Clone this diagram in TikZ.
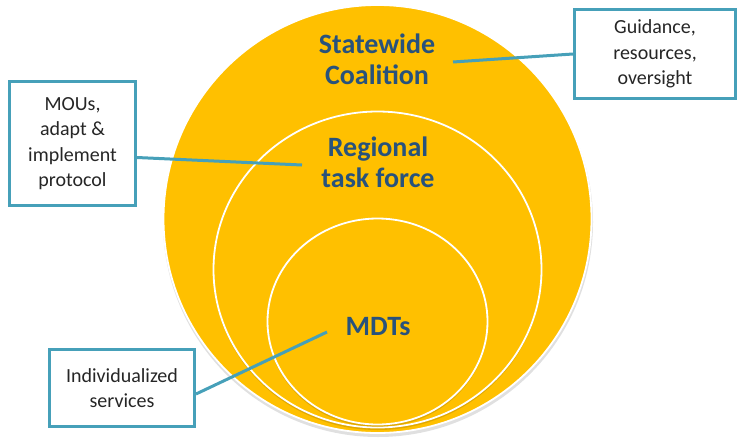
\documentclass[tikz,border=0pt]{standalone}
\usepackage{fontspec}
\setmainfont{Carlito}
\usetikzlibrary{shadows}
\definecolor{gold}{RGB}{255,192,0}
\definecolor{title}{RGB}{40,82,124}
\definecolor{teal}{RGB}{70,160,185}
\definecolor{boxtext}{RGB}{38,38,38}
\tikzset{
  ring/.style={fill=gold, draw=white, line width=1.8pt},
  ringshadow/.style={fill=black, opacity=0.12},
  ctitle/.style={text=title, font=\bfseries\fontsize{28}{31}\selectfont, align=center, inner sep=0pt},
  infobox/.style={draw=teal, line width=3pt, fill=white, text=boxtext, align=center,
    font=\fontsize{20}{25.5}\selectfont, inner sep=0pt,
    drop shadow={shadow xshift=1.2pt, shadow yshift=-1.5pt, opacity=0.35}},
  link/.style={draw=teal, line width=3pt}
}
\begin{document}
\begin{tikzpicture}[x=1pt,y=-1pt]
\useasboundingbox (0,0) rectangle (738,442);
% outer circle
\fill[ringshadow] (378,222) ellipse [x radius=215, y radius=215];
\draw[ring] (377.5,219) ellipse [x radius=214, y radius=214];
% middle circle
\fill[ringshadow] (377.5,272) ellipse [x radius=164, y radius=158];
\draw[ring] (377.5,269.5) ellipse [x radius=164, y radius=158];
% inner circle
\fill[ringshadow] (377.5,324) ellipse [x radius=110, y radius=103];
\draw[ring] (377.5,321.5) ellipse [x radius=110, y radius=103];
% titles
\node[ctitle] (sc) at (377,59) {Statewide\\Coalition};
\node[ctitle] (rt) at (378,162) {Regional\\task force};
\node[ctitle] (mdt) at (378,327) {MDTs};
% boxes
\node[infobox, minimum width=161pt, minimum height=89pt] (g) at (655,54) {Guidance,\\resources,\\oversight};
\node[infobox, minimum width=126pt, minimum height=124pt] (m) at (72.5,143.5) {MOUs,\\adapt \&\\implement\\protocol};
\node[infobox, minimum width=145pt, minimum height=77pt] (iv) at (122,388) {Individualized\\services};
% connector ends
\coordinate (ge) at (453,62);
\coordinate (me) at (302,165);
\coordinate (ie) at (327,332);
\draw[link] (g.west) -- (ge);
\draw[link] (m.east) ++(0,14) coordinate (ms) (ms) -- (me);
\draw[link] (iv.east) ++(0,6) coordinate (is) (is) -- (ie);
\end{tikzpicture}
\end{document}
